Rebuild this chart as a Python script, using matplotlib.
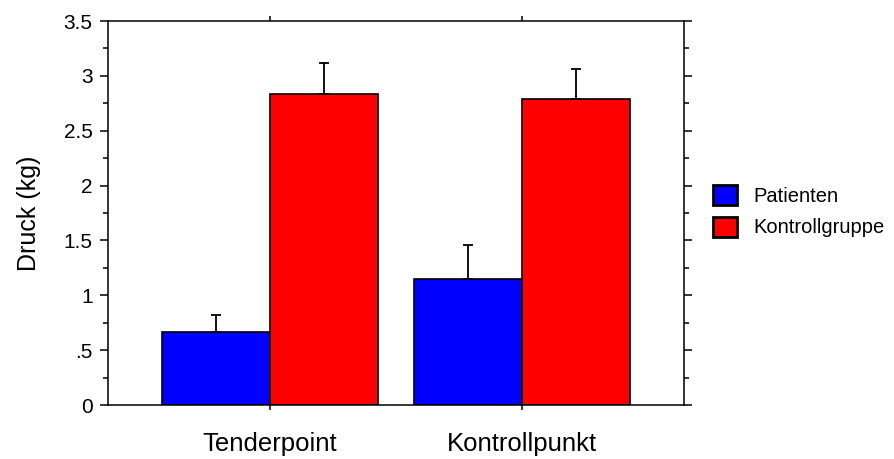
import matplotlib.pyplot as plt
import numpy as np
from matplotlib.patches import Patch
from matplotlib.ticker import MultipleLocator

plt.rcParams['font.family'] = ['Liberation Sans', 'DejaVu Sans']

# ======================
# Data
# ======================
categories = ["Tenderpoint", "Kontrollpunkt"]
groups = ["Patienten", "Kontrollgruppe"]
colors = ["#0000ff", "#ff0000"]

patienten = [0.663, 1.149]
patienten_err = [0.16, 0.31]

kontroll = [2.835, 2.79]
kontroll_err = [0.285, 0.273]

ytick_vals = [0, 0.5, 1, 1.5, 2, 2.5, 3, 3.5]
ytick_labels = ["0", ".5", "1", "1.5", "2", "2.5", "3", "3.5"]

# ======================
# Plot
# ======================
fig = plt.figure(figsize=(8.94, 4.59), dpi=100)
ax = fig.add_axes([0.1208, 0.1176, 0.6443, 0.8366])

x = np.arange(len(categories))
w = 0.4286

ax.bar(x - w / 2, patienten, w, color=colors[0], edgecolor='black', linewidth=1.2,
       yerr=[np.zeros(len(x)), patienten_err], error_kw=dict(ecolor='black', elinewidth=1.3,
                                                             capsize=3.3, capthick=1.3))
ax.bar(x + w / 2, kontroll, w, color=colors[1], edgecolor='black', linewidth=1.2,
       yerr=[np.zeros(len(x)), kontroll_err], error_kw=dict(ecolor='black', elinewidth=1.3,
                                                           capsize=3.3, capthick=1.3))

ax.set_xlim(-0.643, 1.643)
ax.set_ylim(0, 3.5)

ax.set_yticks(ytick_vals)
ax.set_yticklabels(ytick_labels, fontsize=15)
ax.yaxis.set_minor_locator(MultipleLocator(0.25))
ax.tick_params(axis='y', which='major', direction='out', length=6, width=1.1,
               pad=5, right=True)
ax.tick_params(axis='y', which='minor', direction='out', length=3.5, width=1.1, right=True)

ax.set_xticks(x)
ax.set_xticklabels(categories, fontsize=18.5)
ax.tick_params(axis='x', which='major', direction='out', length=3.5, width=1.1,
               pad=16, top=True)

for s in ax.spines.values():
    s.set_linewidth(1.1)

ax.set_ylabel("Druck (kg)", fontsize=18, labelpad=16)

handles = [Patch(facecolor=c, edgecolor='black', linewidth=2) for c in colors]
fig.legend(handles, groups, loc='upper left', bbox_to_anchor=(0.789, 0.615),
           frameon=False, fontsize=14.5, handlelength=1.15, handleheight=1.15,
           handletextpad=0.85, labelspacing=0.55, borderaxespad=0)

plt.savefig("out.png", dpi=100)
